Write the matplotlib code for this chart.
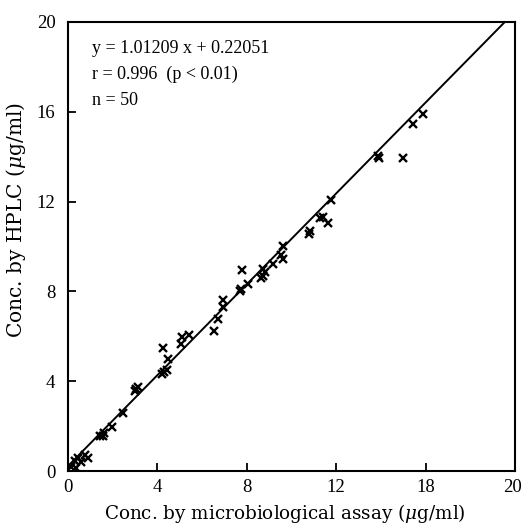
import matplotlib
matplotlib.use("Agg")
import matplotlib.pyplot as plt
import matplotlib.transforms as mtransforms
import numpy as np

plt.rcParams['font.family'] = ['Liberation Serif', 'DejaVu Serif']
plt.rcParams['mathtext.fontset'] = 'dejavuserif'

# Data (microbiological assay vs HPLC, ug/ml)
x_assay = [0.15, 0.3, 0.35, 0.45, 0.6, 0.75, 0.9,
           1.45, 1.57, 1.6, 1.97, 2.46, 3.0, 3.05, 3.13,
           4.2, 4.3, 4.43, 4.47, 4.25, 5.06, 5.1, 5.41,
           6.53, 6.71, 6.94, 6.94, 7.7, 7.75, 8.05, 7.79,
           8.65, 8.72, 8.72, 8.81, 9.17, 9.55, 9.62, 9.62,
           10.78, 10.85, 11.28, 11.4, 11.63, 11.77,
           13.87, 13.9, 14.99, 15.44, 15.88]
y_hplc = [0.2, 0.45, 0.15, 0.6, 0.4, 0.7, 0.6,
          1.55, 1.57, 1.7, 1.97, 2.6, 3.55, 3.65, 3.75,
          4.3, 4.4, 4.48, 5.0, 5.47, 5.65, 5.96, 6.05,
          6.25, 6.77, 7.31, 7.62, 8.03, 8.1, 8.34, 8.97,
          8.6, 8.7, 9.0, 8.88, 9.24, 9.6, 9.46, 10.0,
          10.54, 10.7, 11.26, 11.3, 11.03, 12.06,
          14.04, 13.95, 13.95, 15.47, 15.92]

slope = 1.01209
intercept = 0.22051
eq_lines = ["y = 1.01209 x + 0.22051", "r = 0.996  (p < 0.01)", "n = 50"]

xticks = [0, 4, 8, 12, 16, 20]
xtick_labels = ["0", "4", "8", "12", "18", "20"]
yticks = [0, 4, 8, 12, 16, 20]
ytick_labels = ["0", "4", "8", "12", "16", "20"]

fig = plt.figure(figsize=(5.25, 5.27), dpi=100)
ax = fig.add_axes([68 / 525, (527 - 471) / 527, 447 / 525, 449 / 527])

ax.plot(x_assay, y_hplc, linestyle='none', marker='x', color='black',
        markersize=5.5, markeredgewidth=1.7)

x_end = (20 - intercept) / slope
xl = np.array([0.0, x_end])
ax.plot(xl, slope * xl + intercept, color='black', linewidth=1.4)

ax.set_xlim(0, 20)
ax.set_ylim(0, 20)
ax.set_xticks(xticks)
ax.set_xticklabels(xtick_labels)
ax.set_yticks(yticks)
ax.set_yticklabels(ytick_labels)
ax.tick_params(direction='in', length=6, width=1.3, labelsize=13.5)
ax.tick_params(axis='y', pad=9)
ax.tick_params(axis='x', pad=6)
for s in ax.spines.values():
    s.set_linewidth(1.5)

# nudge last x tick label so it stays inside the figure
last = ax.get_xticklabels()[-1]
last.set_transform(last.get_transform() +
                   mtransforms.ScaledTranslation(-3 / 100, 0, fig.dpi_scale_trans))

ax.set_xlabel(r"Conc. by microbiological assay ($\mu$g/ml)", fontsize=13.2,
              family='DejaVu Serif')
ax.xaxis.set_label_coords(0.485, -0.068)
ax.set_ylabel(r"Conc. by HPLC ($\mu$g/ml)", fontsize=14.5, family='DejaVu Serif')
ax.yaxis.set_label_coords(-0.09, 0.559)

for i, t in enumerate(eq_lines):
    ax.text(0.054, 0.94 - i * 0.057, t, transform=ax.transAxes,
            fontsize=13, va='center', ha='left')

fig.savefig("out.png", dpi=100)
